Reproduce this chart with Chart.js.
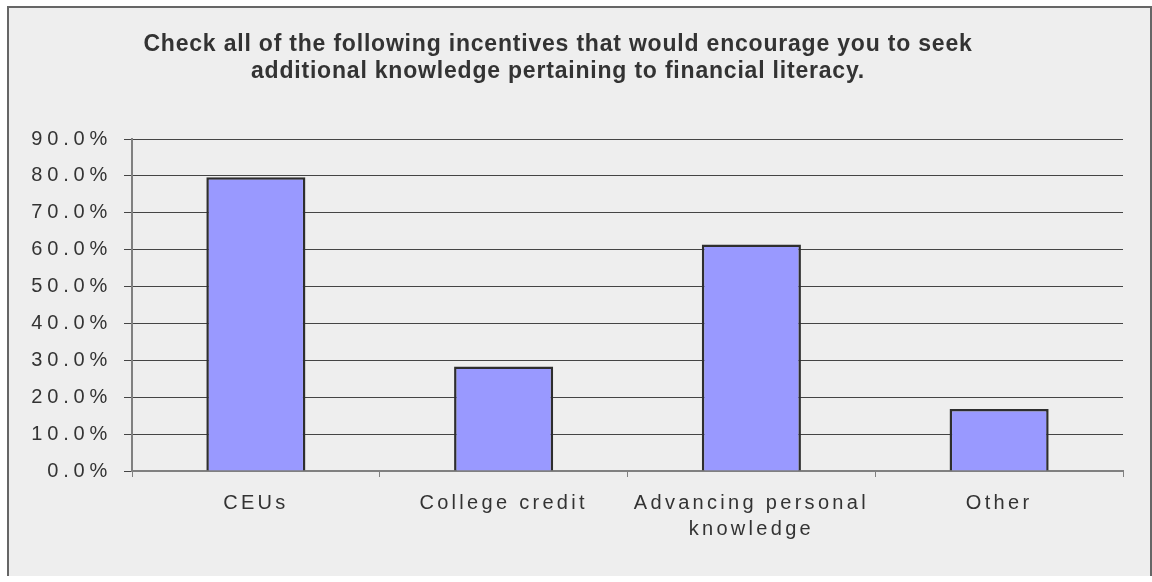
<!DOCTYPE html>
<html>
<head>
<meta charset="utf-8">
<script src="https://cdn.jsdelivr.net/npm/chart.js@4"></script>
<style>
  html, body { margin: 0; padding: 0; background: #fff; }
  #panel {
    position: absolute; left: 7px; top: 6px;
    width: 1141px; height: 568px;
    background: #eeeeee;
    border-left: 2px solid #666; border-top: 2px solid #666; border-right: 2px solid #666;
  }
  #panel canvas { display: block; }
</style>
</head>
<body>
<div id="panel"><canvas id="chart_incentives" width="1141" height="568"></canvas></div>
<script>
const categories = ['CEUs', 'College credit', ['Advancing personal', 'knowledge'], 'Other'];
const percentages = [79.6, 28.3, 61.4, 16.8];
const titleLines = [
    'Check all of the following incentives that would encourage you to seek',
    'additional knowledge pertaining to financial literacy.'
];

// title is drawn by hand since it sits left of the plot centre
const titlePlugin = {
    id: 'handTitle',
    beforeDraw(chart) {
        const ctx = chart.ctx;
        ctx.save();
        ctx.fillStyle = '#333';
        ctx.font = 'bold 23px "Liberation Sans", Arial, sans-serif';
        ctx.letterSpacing = '0.8px';
        ctx.textAlign = 'center';
        ctx.textBaseline = 'middle';
        ctx.fillText(titleLines[0], 549, 37);
        ctx.fillText(titleLines[1], 549, 64);
        ctx.restore();
        // the source text is spaced out a bit (x labels)
        ctx.letterSpacing = '3.3px';
    },
    // y labels are drawn after the bars (ticks.z = 1), a bit wider still
    afterDatasetsDraw(chart) {
        chart.ctx.letterSpacing = '4.8px';
    }
};

const options = {
    responsive: false,
    animation: false,
    layout: { padding: { top: 131, right: 27, left: 0, bottom: 0 } },
    plugins: {
        legend: { display: false },
        title: { display: false },
        tooltip: { enabled: false },
    },
    scales: {
        y: {
            min: 0,
            max: 90,
            afterFit: (scale) => { scale.width = 123; },
            ticks: {
                z: 1,
                stepSize: 10,
                padding: 12,
                color: '#333',
                font: { family: '"Liberation Sans", Arial, sans-serif', size: 20 },
                callback: (v) => v.toFixed(1) + '%',
            },
            grid: { color: '#444', lineWidth: 1, tickLength: 8 },
            border: { color: '#808080', width: 2 },
        },
        x: {
            afterFit: (scale) => { scale.height = 105; },
            ticks: {
                padding: 13,
                color: '#333',
                font: { family: '"Liberation Sans", Arial, sans-serif', size: 20, lineHeight: 1.3 },
                maxRotation: 0,
                autoSkip: false,
            },
            grid: { offset: true, drawOnChartArea: false, color: '#808080', tickLength: 6 },
            border: { color: '#808080', width: 2 },
        },
    }
};

const data = {
    labels: categories,
    datasets: [{
        label: 'Incentives',
        data: percentages,
        backgroundColor: '#9999ff',
        borderColor: '#2e2e2e',
        borderWidth: 2.5,
        barPercentage: 0.4,
        categoryPercentage: 1.0,
    }]
};

const chart = new Chart(document.getElementById('chart_incentives'), {
    type: 'bar',
    data: data,
    options: options,
    plugins: [titlePlugin],
});
</script>
</body>
</html>
